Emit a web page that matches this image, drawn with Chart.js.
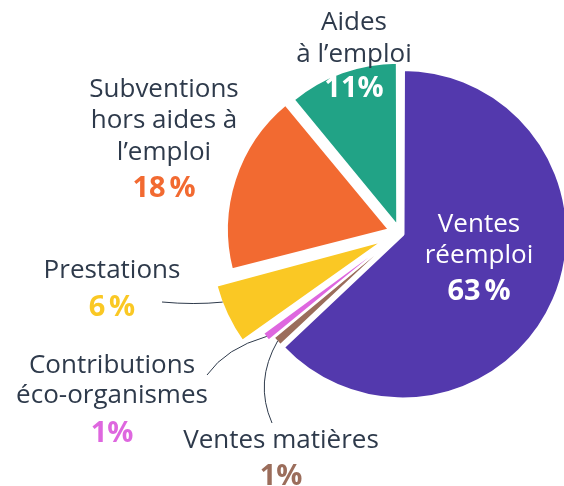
<!DOCTYPE html>
<html lang="fr">
<head>
<meta charset="utf-8">
<title>Répartition des ressources</title>
<script src="https://cdn.jsdelivr.net/npm/chart.js@4.4.1/dist/chart.umd.min.js"></script>
<style>
  html, body { margin: 0; padding: 0; background: #ffffff; }
  #wrap { width: 564px; height: 486px; position: relative; }
</style>
</head>
<body>
<div id="wrap"><canvas id="pie" width="564" height="486"></canvas></div>
<script>
// Resource categories, clockwise from 12 o'clock
const categories = [
  'Ventes réemploi',
  'Ventes matières',
  'Contributions éco-organismes',
  'Prestations',
  'Subventions hors aides à l’emploi',
  'Aides à l’emploi'
];
// Share of total resources (%)
const shares = [63, 1, 1, 6, 18, 11];
// Percentage labels as printed
const percentLabels = ['63\u202F%', '1%', '1%', '6\u202F%', '18\u202F%', '11%'];

const sliceColors = ['#5339AD', '#9B6D5B', '#DE67DF', '#FAC824', '#F26A31', '#21A386'];
// Exploded distance of each slice (Chart.js arc offset units) and white separators
const sliceOffsets = [12, 4, 16, 72, 44, 27];
const sliceBorders = [3.5, 2, 2, 2.5, 3, 3];

const INK = '#2E3A4B';
const FONT = '"Open Sans", "Noto Sans", sans-serif';

// Label blocks: name lines + percentage, anchored at a centre x and baselines
const labelBlocks = [
  { i: 0, x: 479, lines: ['Ventes', 'réemploi'], ys: [232, 263], py: 300, inside: true },
  { i: 1, x: 281, lines: ['Ventes matières'], ys: [448], py: 485 },
  { i: 2, x: 112, lines: ['Contributions', 'éco-organismes'], ys: [373, 403], py: 442 },
  { i: 3, x: 112, lines: ['Prestations'], ys: [278], py: 316 },
  { i: 4, x: 164, lines: ['Subventions', 'hors aides à', 'l’emploi'], ys: [97, 128, 160], py: 197 },
  { i: 5, x: 354, lines: ['Aides', 'à l’emploi'], ys: [30, 62], py: 97, pctInside: true }
];

// Leader lines: where along the slice they start (0 = start angle, 1 = end angle),
// end point near the label and control point of the curve
const leaders = [
  { i: 3, frac: 0.7, end: [162, 302], ctrl: [194, 305] },
  { i: 2, frac: 0.5, end: [207, 375], ctrl: [226, 348] },
  { i: 1, frac: 0.5, end: [272, 423], ctrl: [254, 382] }
];

function arcAnchor(el, frac, inset) {
  const t = (el.options.offset || 0) / 4;
  const circ = el.endAngle - el.startAngle;
  const fix = 1 - Math.sin(Math.min(Math.PI, circ));
  const mid = (el.startAngle + el.endAngle) / 2;
  const ang = el.startAngle + circ * frac;
  const r = el.outerRadius + t * fix - inset;
  return [el.x + Math.cos(mid) * t + Math.cos(ang) * r,
          el.y + Math.sin(mid) * t + Math.sin(ang) * r];
}

const labelPlugin = {
  id: 'sliceLabels',
  afterDatasetsDraw(chart) {
    const ctx = chart.ctx;
    const arcs = chart.getDatasetMeta(0).data;
    ctx.save();
    // leader lines
    ctx.strokeStyle = INK;
    ctx.lineWidth = 1;
    leaders.forEach(l => {
      const a = arcAnchor(arcs[l.i], l.frac, 1);
      ctx.beginPath();
      ctx.moveTo(a[0], a[1]);
      ctx.quadraticCurveTo(l.ctrl[0], l.ctrl[1], l.end[0], l.end[1]);
      ctx.stroke();
    });
    // texts
    ctx.textAlign = 'center';
    ctx.textBaseline = 'alphabetic';
    labelBlocks.forEach(b => {
      ctx.font = '400 26px ' + FONT;
      ctx.fillStyle = b.inside ? '#FFFFFF' : INK;
      b.lines.forEach((s, k) => ctx.fillText(s, b.x, b.ys[k]));
      ctx.font = '700 29px ' + FONT;
      ctx.fillStyle = (b.inside || b.pctInside) ? '#FFFFFF' : sliceColors[b.i];
      ctx.fillText(percentLabels[b.i], b.x, b.py);
    });
    ctx.restore();
  }
};

new Chart(document.getElementById('pie'), {
  type: 'pie',
  data: {
    labels: categories,
    datasets: [{
      data: shares,
      backgroundColor: sliceColors,
      borderColor: '#FFFFFF',
      borderWidth: sliceBorders,
      offset: sliceOffsets,
      hoverOffset: 0
    }]
  },
  options: {
    responsive: false,
    animation: false,
    radius: 162,
    layout: { padding: { left: 236, right: 0, top: 69, bottom: 89 } },
    plugins: {
      legend: { display: false },
      tooltip: { enabled: false }
    },
    events: []
  },
  plugins: [labelPlugin]
});
</script>
</body>
</html>
